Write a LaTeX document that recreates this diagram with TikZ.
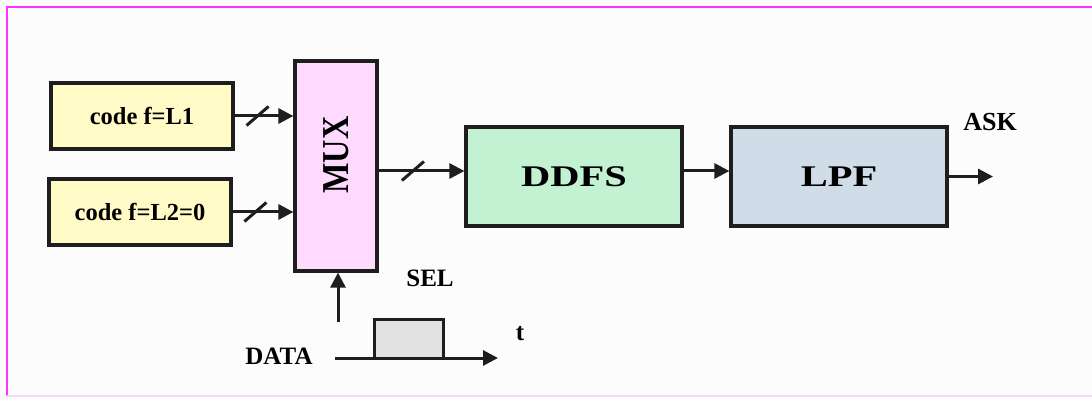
\documentclass[tikz,border=0pt]{standalone}
\usepackage{fontspec}
\setmainfont{Liberation Serif}
\newfontfamily\widefont[FakeStretch=1.35]{Liberation Serif}
\newfontfamily\tallfont[FakeStretch=0.85]{Liberation Serif}
\usetikzlibrary{arrows.meta,calc}

\definecolor{framemag}{HTML}{FF33FF}
\definecolor{framelight}{HTML}{F6D8F6}
\definecolor{codefill}{HTML}{FFFAC6}
\definecolor{muxfill}{HTML}{FFDAFF}
\definecolor{ddfsfill}{HTML}{C2F2D2}
\definecolor{lpffill}{HTML}{D0DCE8}
\definecolor{pulsefill}{HTML}{E2E2E2}
\definecolor{ink}{HTML}{1E1E1E}

\tikzset{
  blockbox/.style={draw=ink, line width=3.2pt, inner sep=0pt, anchor=center},
  codebox/.style={blockbox, fill=codefill, minimum width=182pt, minimum height=66pt,
    font=\bfseries\fontsize{24.5}{28}\selectfont},
  widebox/.style={blockbox, minimum width=216pt, minimum height=99pt,
    font=\widefont\bfseries\fontsize{30}{34}\selectfont},
  arr/.style={draw=ink, line width=3pt, -{Triangle[length=15pt,width=15pt]}},
  label/.style={inner sep=0pt, font=\bfseries\fontsize{25}{28}\selectfont},
  busmark/.pic={\draw[ink, line width=3pt, -] (-11,9.5) -- (11,-9.5);}
}

\begin{document}
\begin{tikzpicture}[x=1pt, y=-1pt]
  % page and frame
  \useasboundingbox (0,0) rectangle (1092,398);
  \fill[white!99!black] (0,0) rectangle (1092,398);
  \draw[framemag, line width=2pt] (1092,7) -- (7,7) -- (7,396);
  \draw[framelight, line width=2pt] (7,396) -- (1092,396);

  % blocks
  \node[codebox] (code1) at (142,116) {code f=L1};
  \node[codebox] (code2) at (140,212) {code f=L2=0};
  \node[blockbox, fill=muxfill, minimum width=82pt, minimum height=210pt] (mux) at (336,166) {};
  \node[rotate=90, inner sep=0pt, font=\tallfont\bfseries\fontsize{38}{42}\selectfont] (muxtext)
    at ([yshift=11pt]mux.center) {MUX};
  \node[widebox, fill=ddfsfill] (ddfs) at (574,176.5) {DDFS};
  \node[widebox, fill=lpffill] (lpf) at (839,176.5) {LPF};

  % data path
  \draw[arr] (code1.east) -- pic[pos=0.39]{busmark} (code1.east -| mux.west);
  \draw[arr] (code2.east) -- pic[pos=0.375]{busmark} (code2.east -| mux.west);
  \draw[arr] ([yshift=-5pt]mux.east) coordinate (muxout)
    -- pic[pos=0.4]{busmark} (muxout -| ddfs.west);
  \draw[arr] ([yshift=5.5pt]ddfs.east) coordinate (ddfsout) -- (ddfsout -| lpf.west);
  \coordinate (askend) at (993,176.5);
  \draw[arr] (lpf.east) -- (askend);
  \node[label, font=\bfseries\fontsize{26}{28}\selectfont] (ask) at (990,122) {ASK};

  % select signal
  \coordinate (selstart) at (338,322);
  \draw[arr] (selstart) -- (selstart |- mux.south);
  \node[label] (sel) at (430,278) {SEL};

  % data waveform
  \node[draw=ink, line width=3pt, fill=pulsefill, minimum width=69pt, minimum height=39pt,
        inner sep=0pt] (pulse) at (408.5,338.5) {};
  \coordinate (dstart) at (335,358);
  \coordinate (tend) at (498,358);
  \draw[arr] (dstart) -- (tend);
  \node[label] (data) at (279,356) {DATA};
  \node[label] (t) at (520,334) {t};
\end{tikzpicture}
\end{document}
